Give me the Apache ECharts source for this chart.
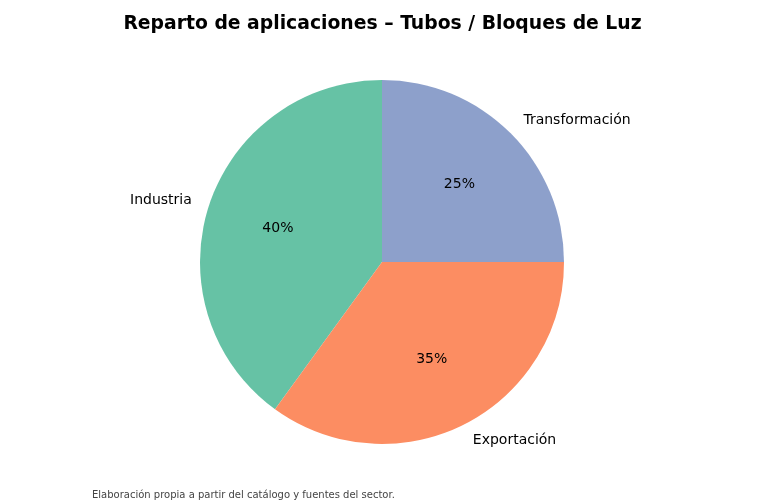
<!DOCTYPE html>
<html lang="es">
<head>
    <meta charset="UTF-8">
    <title>Reparto de aplicaciones</title>
    <script src="https://cdn.jsdelivr.net/npm/echarts@6/dist/echarts.min.js"></script>
    <style>
        html, body { margin: 0; padding: 0; background: #fff; }
    </style>
</head>
<body>
<div id="main" style="width: 765px;height:503px;"></div>
<script type="text/javascript">
    // datos del gráfico
    var categorias = ['Industria', 'Exportación', 'Transformación'];
    var valores = [40, 35, 25];
    var colores = ['#66c2a5', '#fc8d62', '#8da0cb'];

    var centro = [382, 262];
    var radio = 182;

    var datos = [];
    var datosPct = [];
    for (var i = 0; i < categorias.length; i++) {
        datos.push({ name: categorias[i], value: valores[i], itemStyle: { color: colores[i] } });
        datosPct.push({ name: categorias[i], value: valores[i] });
    }

    var myChart = echarts.init(document.getElementById('main'));
    myChart.setOption({
        animation: false,
        title: {
            text: 'Reparto de aplicaciones – Tubos / Bloques de Luz',
            left: 'center',
            top: 10,
            textStyle: { fontFamily: 'DejaVu Sans', fontSize: 18.8, fontWeight: 'bold', color: '#000' }
        },
        graphic: [{
            type: 'text',
            left: 92,
            top: 490,
            style: {
                text: 'Elaboración propia a partir del catálogo y fuentes del sector.',
                font: '10px "DejaVu Sans"',
                fill: '#444'
            }
        }],
        series: [
            {
                // sectores + etiquetas exteriores (a 1.1 del radio)
                type: 'pie',
                center: centro,
                radius: [0, radio],
                startAngle: 90,
                clockwise: false,
                silent: true,
                avoidLabelOverlap: false,
                data: datos,
                label: {
                    show: true,
                    position: 'outside',
                    distanceToLabelLine: 0,
                    padding: [3, 0, 0, 0],
                    fontFamily: 'DejaVu Sans',
                    fontSize: 14,
                    color: '#000',
                    formatter: '{b}'
                },
                labelLine: { show: false, length: 18, length2: 0 }
            },
            {
                // porcentajes a 0.6 del radio
                type: 'pie',
                center: centro,
                radius: [0, radio * 1.17],
                startAngle: 90,
                clockwise: false,
                silent: true,
                data: datosPct,
                itemStyle: { color: 'rgba(0,0,0,0)' },
                label: {
                    show: true,
                    position: 'inside',
                    padding: [3, 0, 0, 0],
                    fontFamily: 'DejaVu Sans',
                    fontSize: 14,
                    color: '#000',
                    formatter: '{d}%'
                },
                labelLine: { show: false }
            }
        ]
    });
</script>
</body>
</html>
